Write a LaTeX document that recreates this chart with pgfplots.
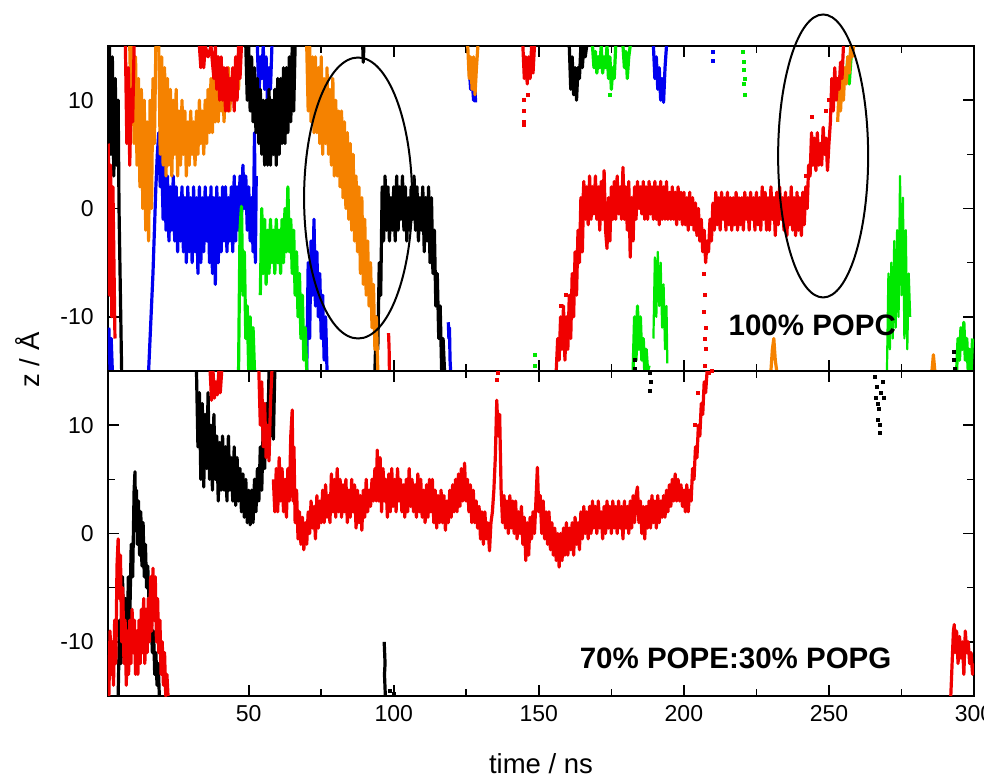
\documentclass[border=0pt]{standalone}
\usepackage{pgfplots}
\pgfplotsset{compat=1.18}
\usepackage{fontspec}
\setmainfont{Liberation Sans}
\definecolor{cred}{RGB}{240,0,0}
\definecolor{cblue}{RGB}{0,0,240}
\definecolor{cgreen}{RGB}{0,232,0}
\definecolor{corange}{RGB}{245,130,0}
\pgfplotsset{
  common/.style={
    scale only axis, width=433pt, height=162.5pt,
    xmin=1.5, xmax=300, ymin=-15, ymax=15,
    xtick={50,100,150,200,250,300}, minor x tick num=1,
    ytick={-10,0,10}, yticklabels={-10,0,10}, minor y tick num=1,
    major tick length=5.5pt, minor tick length=3.5pt,
    every tick/.style={black, line width=0.8pt},
    axis line style={line width=1pt},
    tick pos=both, tick align=inside,
    xticklabel style={font=\fontsize{11.5}{13}\selectfont, anchor=base, yshift=-12.8pt, inner sep=0pt},
    yticklabel style={font=\fontsize{11.5}{13}\selectfont, anchor=east, xshift=-7pt, inner sep=0pt},
    clip mode=individual,
  },
  band/.style={no markers, line width=1.6pt, line join=round},
  dots/.style={only marks, mark=square*, mark size=0.75pt},
}
\begin{document}
\begin{tikzpicture}
% ================= TOP PANEL: 100% POPC =================
\begin{axis}[common, at={(0,162.5pt)}, xticklabels={}]
% blue
\addplot[band, cblue] coordinates {(1.8,-11)(2.2,-15)(2.6,-12)(3,-15)};
\addplot[band, cblue] coordinates {(15.5,-15)(16,-12)(16.5,-9)(17,-6)(17.5,-2)(18,2)(18.5,5)(19,7)(19.5,2)(20,5)(20.5,-1)(21,4)(21.5,-2)(22,3)(22.5,-3)(23,2)(23.5,-2)(24,3)(24.5,-3)(25,2)(25.5,-4)(26,1)(26.5,-3)(27,2)(27.5,-4)(28,1)(28.5,-5)(29,2)(29.5,-4)(30,1)(30.5,-5)(31,2)(31.5,-4)(32,1)(32.5,-6)(33,2)(33.5,-5)(34,1)(34.5,-4)(35,2)(35.5,-3)(36,1)(36.5,-5)(37,2)(37.5,-6)(38,1)(38.5,-7)(39,2)(39.5,-5)(40,1)(40.5,-4)(41,2)(41.5,-3)(42,2)(42.5,-4)(43,1)(43.5,-3)(44,2)(44.5,-4)(45,3)(45.5,-3)(46,2)(46.5,-2)(47,3)(47.5,-1)(48,4)(48.5,0)(49,3)(49.5,-2)(50,2)(50.5,-3)(51,1)(51.5,-4)(52,7)(52.3,-5)(52.6,3)};
\addplot[band, cblue] coordinates {(70,-15)(70.5,-5)(71,-12)(71.5,-3)(72,-8)(72.5,-1)(73,-9)(73.5,-4)(74,-10)(74.5,-6)(75,-12)(75.5,-8)(76,-14)(76.5,-10)(77,-15)};
\addplot[band, cblue] coordinates {(53,15)(53.5,10)(54,14)(54.5,12)(55,15)(55.5,11)(56,14)(56.5,9.5)(57,13)(57.5,11)(58,15)};
\addplot[band, cblue] coordinates {(118.8,-10.5)(119,-12)(119.2,-11)(119.4,-14)(119.6,-15)};
\addplot[band, cblue] coordinates {(126,13)(126.5,11)(127,12)(127.5,10)(128,11)(128.2,9.8)};
\addplot[band, cblue] coordinates {(189.5,15)(190,12)(190.5,14)(191,11)(191.5,13)(192,10)(192.5,12)(193,9.8)(193.5,13)(194,15)};
\addplot[dots, cblue] coordinates {(210.1,14.5)(210.1,13.6)};
% green
\addplot[band, cgreen] coordinates {(46.5,-15)(47,-2)(47.5,0.2)(48,-8)(48.5,-4)(49,-12)(49.5,-9)(50,-15)(50.5,-10)(51,-15)(51.5,-11)(52,-15)};
\addplot[band, cgreen] coordinates {(54,-8)(54.5,0)(55,-6)(55.5,-1)(56,-7)(56.5,-2)(57,-6)(57.5,-1)(58,-5)(58.5,-2)(59,-6)(59.5,-1)(60,-5)(60.5,-2)(61,-6)(61.5,-1)(62,-5)(62.5,0)(63,-4)(63.5,2)(64,-4)(64.5,-1)(65,-6)(65.5,-2)(66,-8)(66.5,-4)(67,-10)(67.5,-6)(68,-12)(68.5,-8)(69,-14)(69.5,-11)(70,-15)};
\addplot[band, cgreen] coordinates {(168.5,15)(169,13)(169.5,14.5)(170,12.5)(170.5,14)(171,13)(171.5,15)(172,12.5)(172.5,14)(173,13)(173.5,15)(174,12)(174.5,14)(175,11)(175.5,13)(176,12)(176.5,15)};
\addplot[band, cgreen] coordinates {(179,15)(179.5,13)(180,14.5)(180.5,12)(181,14)(181.5,15)};
\addplot[dots, cgreen] coordinates {(174.5,10.5)(220.5,14.5)(220.7,13.5)(220.8,12.8)(221,12)(220.6,11.5)(221,10.5)(148.6,-13.5)(148.8,-14.5)};
\addplot[band, cgreen] coordinates {(182.5,-15)(183,-10)(183.5,-14)(184,-9)(184.5,-13)(185,-10)(185.5,-14)(186,-12)(186.5,-15)(187,-13)(187.5,-15)(188,-14.5)};
\addplot[band, cgreen, line width=1.1pt] coordinates {(189.5,-12)(190,-4.5)(190.5,-10)(191,-4)(191.5,-9)(192,-5)(192.5,-11)(193,-7)(193.5,-13)(194,-9)(194.3,-14.3)};
\addplot[band, cgreen] coordinates {(256,12)(256.5,14)(257,11.5)(257.5,13.5)(258,15)};
\addplot[band, cgreen, line width=1.1pt] coordinates {(270,-15)(270.5,-6)(271,-13)(271.5,-5)(272,-12)(272.5,-3)(273,-11)(273.5,-2)(274,-10)(274.5,3)(275,-8)(275.5,1)(276,-12)(276.5,-2)(277,-13)(277.5,-6)(278,-10)};
\addplot[band, cgreen] coordinates {(294,-15)(294.5,-12)(295,-14)(295.5,-11)(296,-13)(296.5,-10.5)(297,-14)(297.5,-12)(298,-15)(298.5,-13)(299,-15)(299.5,-12)};
% black
\addplot[band, black] coordinates {(2,15)(2.5,5)(3,14)(3.5,3)(4,12)(4.5,4)(5,10)(5.3,0)(5.6,-5)(5.9,-10)(6.2,-15)};
\addplot[band, black] coordinates {(49,15)(49.5,10)(50,15)(50.5,9)(51,14)(51.5,8)(52,13)(52.5,7)(53,12)(53.5,6)(54,11)(54.5,5)(55,10)(55.5,4)(56,10)(56.5,4)(57,11)(57.5,4)(58,10)(58.5,5)(59,11)(59.5,4)(60,12)(60.5,5)(61,12)(61.5,6)(62,13)(62.5,6)(63,13)(63.5,7)(64,14)(64.5,8)(65,15)(65.5,9)(66,15)};
\addplot[band, black] coordinates {(89.3,15)(89.5,13.5)(89.7,15)};
\addplot[band, black] coordinates {(93.5,-15)(94,-10)(94.5,-13)(95,-5)(95.5,-8)(96,2)(96.5,-3)(97,3)(97.5,-2)(98,2)(98.5,-3)(99,1)(99.5,-2)(100,2)(100.5,-3)(101,3)(101.5,-2)(102,2)(102.5,-1)(103,3)(103.5,-2)(104,2)(104.5,-3)(105,1)(105.5,-2)(106,2)(106.5,-1)(107,3)(107.5,-2)(108,2)(108.5,-3)(109,1)(109.5,-2)(110,2)(110.5,-4)(111,1)(111.5,-3)(112,2)(112.5,-5)(113,1)(113.5,-6)(114,-2)(114.5,-9)(115,-6)(115.5,-12)(116,-9)(116.5,-15)(117,-12)(117.5,-15)};
\addplot[band, black] coordinates {(160.5,15)(161,11)(161.5,14)(162,10.5)(162.5,13)(163,10)(163.5,13)(164,12)(164.5,15)(165,13)(165.5,15)(166,14)(166.5,15)};
\addplot[dots, black] coordinates {(183,-14)(183.2,-14.8)(293,-13.2)(293.2,-14)(293.4,-14.8)};
% orange
\addplot[band, corange] coordinates {(9,15)(9.5,8)(10,15)(10.5,6)(11,14)(11.5,4)(12,12)(12.5,2)(13,11)(13.5,0)(14,10)(14.5,-2)(15,8)(15.5,-3)(16,10)(16.5,0)(17,12)(17.5,6)(18,15)};
\addplot[band, corange] coordinates {(19,15)(19.5,5)(20,14)(20.5,4)(21,13)(21.5,3)(22,12)(22.5,4)(23,11)(23.5,3)(24,10)(24.5,5)(25,11)(25.5,3)(26,9)(26.5,4)(27,10)(27.5,5)(28,9)(28.5,3)(29,8)(29.5,4)(30,9)(30.5,5)(31,8)(31.5,4)(32,9)(32.5,5)(33,10)(33.5,6)(34,9)(34.5,5)(35,10)(35.5,6)(36,11)(36.5,7)(37,12)(37.5,7)(38,13)(38.5,8)(39,12)(39.5,8)(40,13)(40.5,9)(41,12)(41.5,8)(42,12)(42.5,9)(43,13)(43.5,9)(44,12)(44.5,10)(45,13)(45.5,10)(46,14)(46.5,11)(47,15)};
\addplot[band, corange] coordinates {(70,15)(70.5,9)(71,15)(71.5,8)(72,14)(72.5,7)(73,14)(73.5,7)(74,13)(74.5,6)(75,14)(75.5,5)(76,12)(76.5,6)(77,13)(77.5,5)(78,11)(78.5,4)(79,12)(79.5,3)(80,10)(80.5,3)(81,9)(81.5,2)(82,9)(82.5,1)(83,8)(83.5,0)(84,7)(84.5,-1)(85,6)(85.5,-2)(86,5)(86.5,-3)(87,3)(87.5,-4)(88,2)(88.5,-6)(89,1)(89.5,-7)(90,-1)(90.5,-8)(91,-3)(91.5,-9)(92,-5)(92.5,-11)(93,-7)(93.5,-13)(94,-10)(94.5,-15)};
\addplot[band, corange] coordinates {(125.5,15)(126,12)(126.5,14)(127,11)(127.5,14)(128,10.5)(128.5,13)(129,15)};
\addplot[band, corange] coordinates {(253,8)(253.5,11)(254,9)(254.5,12)(255,10)(255.5,13)(256,11.5)(256.5,14)(257,12.5)(257.5,15)(258,14)(258.5,15)};
\addplot[band, corange] coordinates {(230,-15)(230.5,-13)(231,-12)(231.5,-14)(232,-15)};
\addplot[band, corange] coordinates {(285.5,-15)(286,-13.5)(286.5,-15)};
% red
\addplot[band, cred] coordinates {(1.6,6)(2,-8)(2.4,4)(2.8,-10)(3.2,2)(3.6,-6)(3.9,-12)};
\addplot[band, cred] coordinates {(7.5,15)(8,6)(8.5,13)(9,4)(9.5,11)(10,8)(10.5,15)};
\addplot[band, cred] coordinates {(33,15)(33.5,13)(34,15)(34.5,13)(35,15)(36,14)(37,15)(38,12)(38.5,15)(39,11)(39.5,14)(40,10)(40.5,14)(41,10)(41.5,13)(42,9)(42.5,13)(43,9)(43.5,12)(44,10)(44.5,13)(45,9)(45.5,14)(46,10)(46.5,15)(47,12)(47.5,15)};
\addplot[band, cred] coordinates {(98.2,-11.5)(98.4,-13)(98.5,-15)};
\addplot[band, cred] coordinates {(144.5,15)(145,12)(145.5,14)(146,11.5)(146.5,14)(147,12)(147.5,15)(148,12.5)(148.5,15)};
\addplot[dots, cred] coordinates {(145,10)(145,9)(144.8,8)(144.9,7.7)(146.3,10.5)(207,-6)(207.3,-8)(207,-9.5)(207.5,-11)(207.2,-12)(207.6,-13)(207.4,-14.5)(157.6,-9)(158.3,-11)(159.5,-8)(242,3)(244,8.5)(249,9)(250,10)};
\addplot[band, cred] coordinates {(156,-15)(156.5,-12)(157,-14)(157.5,-10)(158,-13)(158.5,-9)(159,-14)(159.5,-10)(160,-13)(160.5,-8)(161,-12)(161.5,-6)(162,-10)(162.5,-4)(163,-8)(163.5,-2)(164,-5)(164.5,1)(165,-4)(165.5,2)(166,-1)};
\addplot[band, cred] coordinates {(165,-1)(165.5,2.5)(166,-1)(166.5,2)(167,-1.5)(167.5,3)(168,-1)(168.5,2)(169,-0.5)(169.5,3)(170,-1)(170.5,2)(171,-2)(171.5,2.5)(172,-1)(172.5,3.5)(173,-2)(173.5,-3.7)(174,1)(174.5,-3)(175,2)(175.5,-1)(176,2.5)(176.5,-1)(177,3)(177.5,-0.5)(178,2)(178.5,-1)(179,3.8)(179.5,-1)(180,2)(180.5,-2)(181,2.5)(181.5,-4.5)(182,1)(182.5,-3)(183,2)(183.5,-1)(184,2.5)(184.5,0)(185,2)(185.5,-0.5)(186,2.5)(186.5,-1)(187,2)(187.5,-1)(188,2.5)(188.5,-0.5)(189,2)(189.5,-1)(190,2.5)(190.5,-1)(191,2)(191.5,-1.5)(192,2.5)(192.5,-1)(193,2)(193.5,-1)(194,2.5)(194.5,-1)(195,1.5)(195.5,-1)(196,2)(196.5,-1)(197,1.5)(197.5,-1.5)(198,2)(198.5,-1)(199,1.5)(199.5,-1.5)(200,1.5)(200.5,-1.5)(201,1)(201.5,-2)(202,1.5)(202.5,-1.5)(203,1)(203.5,-2)(204,0.5)(204.5,-2.5)(205,0)(205.5,-3)(206,-1)(206.5,-4)(207,-2)(207.5,-5)(208,-3)(208.5,-4)(209,-1)(209.5,-3)(210,0.5)(210.5,-2)(211,1.5)(211.5,-1.5)(212,1)(212.5,-2)(213,1.5)(213.5,-1)(214,1)(214.5,-2)(215,1.5)(215.5,-1.5)(216,1)(216.5,-2)(217,1)(217.5,-1.5)(218,1.5)(218.5,-2)(219,1)(219.5,-1.5)(220,1)(220.5,-2)(221,1.5)(221.5,-1)(222,1)(222.5,-2)(223,1.5)(223.5,-1)(224,1)(224.5,-2)(225,1.5)(225.5,-1.5)(226,1)(226.5,-2)(227,2)(227.5,-1)(228,1.5)(228.5,-2)(229,1)(229.5,-2)(230,2)(230.5,-1)(231,1)(231.5,-2.5)(232,1.5)(232.5,-1.5)(233,2)(233.5,-1)(234,1)(234.5,-2)(235,1.5)(235.5,-2.5)(236,1)(236.5,-1.5)(237,2)(237.5,-2)(238,1)(238.5,-2.5)(239,1.5)(239.5,-2)(240,1)(240.5,-2.5)(241,1.5)(241.5,-1.5)(242,2)(242.5,0)(243,4)(243.5,3)(244,7)(244.5,4)(245,6.5)(245.5,3.5)(246,7)(246.5,4)(247,6)(247.5,4)(248,7.5)(248.5,5)(249,6.5)(249.5,3.5)(250,6)(250.5,8)(251,12)(251.5,9)(252,13)(252.5,10)(253,12)(253.5,11)(254,13.5)(254.5,12)(255,15)};
% ellipses and label
\draw[black, line width=1pt] (axis cs:87.7,0.97) ellipse [x radius=27pt, y radius=70.25pt];
\draw[black, line width=1pt] (axis cs:248,4.85) ellipse [x radius=22.5pt, y radius=70.75pt];
\node[anchor=base west, inner sep=0pt, font=\fontsize{14.75}{16}\selectfont\bfseries] at (axis cs:215.3,-11.7) {100\% POPC};
\end{axis}
% ================= BOTTOM PANEL: 70% POPE:30% POPG =================
\begin{axis}[common, at={(0,0)}, xticklabels={50,100,150,200,250,300}]
% black
\addplot[band, black] coordinates {(5,-15)(5.5,-8)(6,-12)(6.5,-4)(7,-10)(7.5,-6)(8,-13)(8.5,-4)(9,-8)(9.5,-1)(10,-4)(10.5,4)(10.8,5.7)(11,1)(11.3,4)(11.6,-1)(12,3)(12.4,-2)(12.8,2)(13.2,-3)(13.6,1)(14,-4)(14.4,-1)(14.8,-5)(15.2,-3)(15.6,-6)(16,-9)(16.4,-8)(16.8,-11)(17.2,-9)(17.6,-13)(18,-11)(18.4,-14)(18.8,-12)(19.2,-15)};
\addplot[band, black] coordinates {(32,15)(32.5,8)(33,13)(33.5,5)(34,12)(34.5,4.3)(35,11)(35.5,6)(36,13)(36.5,5)(37,10)(37.5,4)(38,11)(38.5,5)(39,9)(39.5,3)(40,8.4)(40.5,4)(41,9)(41.5,4)(42,8)(42.5,3)(43,9)(43.5,4)(44,7)(44.5,3)(45,8)(45.5,2.6)(46,7)(46.5,3)(47,6)(47.5,2)(48,5.5)(48.5,1.5)(49,5)(49.5,1)(50,4)(50.5,0.8)(51,4)(51.5,1)(52,5)(52.5,2)(53,6)(53.5,3)(54,8)(54.5,4)(55,10)(55.5,6)(56,12)(56.5,8)(57,15)(57.5,9)(58,15)(58.5,8.7)(59,15)};
\addplot[band, black] coordinates {(96.7,-10)(97,-12)(96.8,-13)(97.1,-15)};
\addplot[dots, black] coordinates {(98.5,-14.5)(100.2,-14.8)(188.4,14.8)(188.5,14)(188.4,13.2)(266,14.5)(266.5,13.5)(266.2,12.5)(266.8,12)(267.3,11.5)(267,10.5)(267.5,10)(267.4,9.3)(268,13)(268.5,14)(269,12.5)};
% red
\addplot[band, cred] coordinates {(1.8,-15)(2.2,-9)(2.6,-13)(3,-10)(3.4,-14)(3.8,-8)(4.2,-12)(4.6,-3)(5,-0.5)(5.4,-6)(5.8,-2)(6.2,-10)(6.6,-5)(7,-12)(7.4,-8)(7.8,-14)(8.2,-9)(8.6,-13)(9,-8)(9.4,-12)(9.8,-7)(10.2,-11)(10.6,-8)(11,-13)(11.4,-9)(11.8,-13)(12.2,-8)(12.6,-12)(13,-7)(13.4,-11)(13.8,-6)(14.2,-12)(14.6,-7)(15,-11)(15.4,-6)(15.8,-10)(16.2,-4)(16.6,-9)(17,-3.2)(17.4,-8)(17.8,-4)(18.2,-10)(18.6,-6)(19,-11)(19.4,-8)(19.8,-13)(20.2,-10)(20.6,-14)(21,-11)(21.4,-15)(21.8,-13)(22.2,-15)};
\addplot[band, cred] coordinates {(36.7,15)(37.2,12.3)(37.7,15)(38.2,12.5)(38.7,14)(39.2,12.8)(39.7,15)(40.2,13)(40.7,15)};
\addplot[band, cred] coordinates {(53.5,15)(54,10)(54.5,14)(55,8)(55.5,12)(56,7)(56.5,10)(57,6.7)(57.5,12)(58,15)};
\addplot[band, cred] coordinates {(58.5,5)(59,2)(59.5,6)(60,2)(60.5,7)(61,3)(61.5,6)(62,2)(62.5,5)(63,1.5)(63.5,6)(64,3)(64.5,9)(65,11.4)(65.3,3)(65.6,8)(66,1)(66.5,4)(67,-0.5)(67.5,2)(68,-1)(68.5,1.5)(69,-1.5)(69.5,1)(70,-1)(70.5,2)(71,0)(71.5,3)(72,0.5)(72.5,2.5)(73,-0.5)(73.5,3.5)(74,0.5)(74.5,3)(75,1)(75.5,4)(76,1)(76.5,4.5)(77,1.5)(77.5,3.5)(78,1)(78.5,5.5)(79,2)(79.5,5)(80,1.5)(80.5,6)(81,2)(81.5,5)(82,1.5)(82.5,4.5)(83,2)(83.5,5)(84,1)(84.5,4)(85,1.5)(85.5,5)(86,2)(86.5,4.5)(87,0.5)(87.5,4)(88,1)(88.5,3.5)(89,0.3)(89.5,4)(90,1.5)(90.5,5)(91,2)(91.5,4)(92,2.5)(92.5,5)(93,3)(93.5,6)(94,3)(94.3,7.7)(94.8,3)(95.3,7)(95.8,2)(96.3,6)(96.8,3)(97.3,5)(97.8,1.5)(98.3,5.5)(98.8,2)(99.3,6)(99.8,2.5)(100.3,5)(100.8,2)(101.3,6)(101.8,3)(102.3,5)(102.8,2)(103.3,4.5)(103.8,1.5)(104.3,5)(104.8,2)(105.3,6)(105.8,2.5)(106.3,5)(106.8,2)(107.3,4.5)(107.8,1.5)(108.3,5.5)(108.8,2)(109.3,5)(109.8,1.5)(110.3,4)(110.8,1)(111.3,4.5)(111.8,1.5)(112.3,5)(112.8,2)(113.3,5)(113.8,1)(114.3,4)(114.8,0.5)(115.3,3.5)(115.8,1)(116.3,4)(116.8,1)(117.3,3.5)(117.8,0.3)(118.3,3)(118.8,1)(119.3,4)(119.8,1.5)(120.3,4.5)(120.8,2)(121.3,5)(121.8,2)(122.3,5.5)(122.8,2.5)(123.3,6)(123.8,3)(124.4,6.5)(124.9,3)(125.4,5)(125.9,2)(126.4,4.5)(126.9,1)(127.4,4)(127.9,1)(128.4,3)(128.9,0.5)(129.4,2.5)(129.9,-0.5)(130.4,2)(130.9,-1)(131.4,2)(131.9,-0.5)(132.4,1)(133,-1.6)(133.5,1)(134,2)(134.5,4)(135,7)(135.5,12.3)(136,9)(136.5,11)(137,4)(137.5,1)(138,3.5)(138.5,0.5)(139,3)(139.5,0)(140,3.5)(140.5,0.5)(141,3)(141.5,0)(142,3)(142.5,-0.5)(143,2)(143.5,0)(144,2.5)(144.5,-1)(145,1.5)(145.5,-2.5)(146,1)(146.5,-2)(147,1.5)(147.5,-0.5)(148,2)(148.5,0)(149,3)(149.5,6.1)(150,2)(150.5,3.5)(151,0)(151.5,3)(152,-0.5)(152.5,2)(153,-1)(153.5,2)(154,-1.5)(154.5,1)(155,-2)(155.5,0.5)(156,-2.5)(156.5,0)(157,-3.1)(157.5,0)(158,-2.5)(158.5,0.5)(159,-2)(159.5,1)(160,-2)(160.5,0.5)(161,-1.5)(161.5,1)(162,-2)(162.5,1.5)(163,-1)(163.5,1)(164,-1.5)(164.5,2)(165,-0.5)(165.5,2.5)(166,0)(166.5,2)(167,-0.5)(167.5,2.5)(168,0)(168.5,3)(169,0.5)(169.5,2.5)(170,0)(170.5,3)(171,0.5)(171.5,2)(172,-0.5)(172.5,2.5)(173,0)(173.5,3)(174,0.5)(174.5,2.5)(175,0)(175.5,3)(176,0.5)(176.5,2.5)(177,0)(177.5,3)(178,0.5)(178.5,2.5)(179,-0.5)(179.5,3)(180,0.5)(180.5,2.5)(181,0)(181.5,3)(182,0.5)(182.5,3.5)(183,1)(183.5,3.5)(184,4.3)(184.5,1)(185,3)(185.5,0)(186,2.5)(186.5,-0.5)(187,2.5)(187.5,0.5)(188,3)(188.5,0.5)(189,3.5)(189.5,1)(190,3)(190.5,0.5)(191,3.5)(191.5,1)(192,3)(192.5,1.5)(193,3.5)(193.5,1.5)(194,4)(194.5,2)(195,4.5)(195.5,2.5)(196,5)(196.5,3)(197,5.5)(197.5,3)(198,5)(198.5,3)(199,4.5)(199.5,2.5)(200,4)(200.5,2)(201,4.5)(201.5,2)(202,4)(202.5,3)(203,6)(203.5,5)(204,8)(204.5,7)(205,10)(205.5,9)(206,12)(206.5,11)(207,14)(207.5,13)(208,15)};
\addplot[dots, cred] coordinates {(135.6,14.2)(135.8,14.8)(208.5,14.8)(209.5,15)(205,13)(203.8,10)};
\addplot[band, cred] coordinates {(292,-15)(292.3,-13)(292.6,-11)(292.9,-9)(293.2,-8.4)(293.5,-11)(294,-9)(294.5,-12)(295,-9.5)(295.5,-11.5)(296,-10)(296.5,-13)(297,-9)(297.5,-11)(298,-10)(298.5,-12)(299,-11)(299.5,-13)(300,-12)};
\node[anchor=base west, inner sep=0pt, font=\fontsize{14.75}{16}\selectfont\bfseries] at (axis cs:164,-12.5) {70\% POPE:30\% POPG};
\end{axis}
\node[rotate=90, font=\fontsize{13.75}{16}\selectfont] at (-40pt,168pt) {z / Å};
\node[anchor=base, font=\fontsize{13.75}{16}\selectfont] at (216.5pt,-38.5pt) {time / ns};
\pgfresetboundingbox
\path (-54pt,-41pt) rectangle (438pt,348pt);
\end{tikzpicture}
\end{document}
